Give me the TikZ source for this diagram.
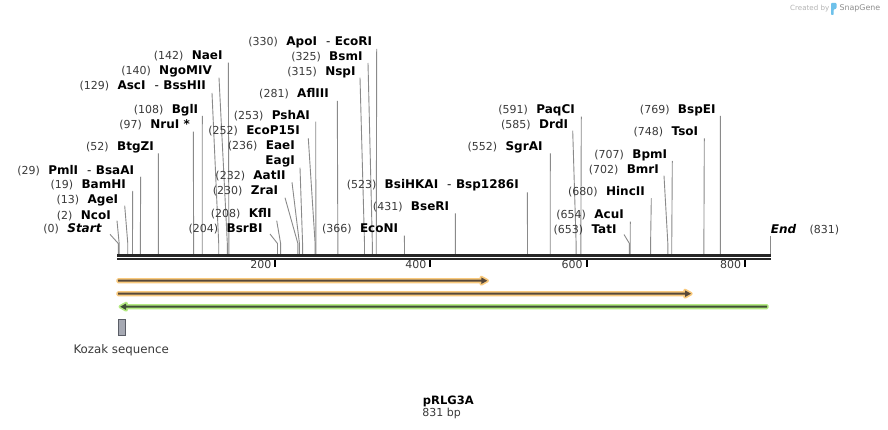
\documentclass[tikz,border=0pt]{standalone}
\usepackage{fontspec}
\setmainfont{DejaVu Sans}
\definecolor{numc}{HTML}{3A3A3A}
\definecolor{cutc}{HTML}{8A8A8A}
\definecolor{orhl}{HTML}{F9C97C}
\definecolor{ordk}{HTML}{56483A}
\definecolor{grhl}{HTML}{B4EA82}
\definecolor{grdk}{HTML}{3F4F35}
\definecolor{kozf}{HTML}{A6A9B3}
\definecolor{kozd}{HTML}{5A5D66}
\definecolor{axisc}{HTML}{262626}
\definecolor{wmgray}{HTML}{B4B4B4}
\definecolor{wmdark}{HTML}{8E8E8E}
\definecolor{wmblue}{HTML}{6EC1EA}
\tikzset{
  enzname/.style={inner sep=0pt, font=\fontsize{12}{14}\selectfont\bfseries, text=black},
  enznum/.style={inner sep=0pt, font=\fontsize{11}{13}\selectfont, text=numc},
  cutline/.style={draw=cutc, line width=0.9pt},
  ticklab/.style={inner sep=0pt, font=\fontsize{11}{13}\selectfont, text=numc, anchor=base east},
  tickmark/.style={draw=black, line width=2pt},
}
\newcommand\cutsite[8]{%
  \node[enzname, anchor=base east] (#1-n) at (#4,#5) {#3};
  \node[enznum, anchor=base east] (#1-p) at ([xshift=-8pt]#1-n.base west) {#2};
  \coordinate (#1-t) at (#6,#7);
  \coordinate (#1-s) at ({117.6+0.7838*#8},254);
  \draw[cutline] (#1-t) -- ([yshift=10.5pt]#1-s) -- (#1-s);
}
\newcommand\dsep{\hspace{9pt}{\mdseries -}\hspace{4.5pt}}
\begin{document}
\begin{tikzpicture}[x=1pt, y=-1pt]
\useasboundingbox (0,0) rectangle (888,430);
\fill[white] (0,0) rectangle (888,430);

% watermark
\node[inner sep=0pt, anchor=base west, font=\fontsize{7.1}{8}\selectfont, text=wmgray] (wm1) at (790,11) {Created by};
\fill[wmblue, rounded corners=0.8pt] (831,3) -- (836.5,3) -- (836.5,8.5) -- (833.6,9.5) -- (833.6,15) -- (831,15) -- cycle;
\node[inner sep=0pt, anchor=base west, font=\fontsize{7.9}{9}\selectfont, text=wmdark] (wm2) at (839.3,11) {SnapGene};

% axis
\fill[axisc] (116.7,254) rectangle (770.7,256.7);
\fill[axisc] (116.7,257.7) rectangle (770.7,260);
\foreach \tx/\tl in {275.3/200, 430.3/400, 586.7/600, 745/800}{
  \coordinate (tk\tl) at (\tx,260);
  \draw[tickmark] (tk\tl) -- ++(0,7);
  \node[ticklab] (tl\tl) at (\tx-3.8,268.3) {\tl};
}

% cut sites
\cutsite{start}{(0)}{\itshape Start}{101.7}{232.7}{110}{234.3}{0.9}
\cutsite{nco}{(2)}{NcoI}{111}{219.3}{117}{220.7}{2}
\cutsite{age}{(13)}{AgeI}{118.3}{204}{124.7}{205.7}{13}
\cutsite{bam}{(19)}{BamHI}{126}{189}{132.7}{191}{19}
\cutsite{pml}{(29)}{PmlI\dsep BsaAI}{134.3}{174.3}{140.7}{176.7}{29}
\cutsite{btg}{(52)}{BtgZI}{154}{151}{158.3}{153.3}{52}
\cutsite{nru}{(97)}{NruI *}{190}{128.3}{193.3}{131.7}{97}
\cutsite{bgl}{(108)}{BglI}{198.3}{113.3}{202.3}{116}{108}
\cutsite{asc}{(129)}{AscI\dsep BssHII}{206}{90}{212}{93}{129}
\cutsite{ngo}{(140)}{NgoMIV}{212}{75}{219}{77.7}{140}
\cutsite{nae}{(142)}{NaeI}{222.7}{60}{228.3}{62.7}{142}
\cutsite{bsrb}{(204)}{BsrBI}{262.7}{232.7}{270}{234}{204}
\cutsite{kfl}{(208)}{KflI}{271.7}{217.7}{276.7}{220.7}{208}
\cutsite{zra}{(230)}{ZraI}{278.3}{195}{285}{197.7}{230}
\cutsite{aat}{(232)}{AatII}{285.7}{180}{292}{182.3}{232}
% EaeI / EagI share one site
\node[enzname, anchor=base east] (eae-n) at (295,149.5) {EaeI};
\node[enznum, anchor=base east] (eae-p) at ([xshift=-8pt]eae-n.base west) {(236)};
\node[enzname, anchor=base east] (eag-n) at (295,165) {EagI};
\coordinate (eag-t) at (300,167.7);
\coordinate (eag-s) at ({117.6+0.7838*236},254);
\draw[cutline] (eag-t) -- ([yshift=10.5pt]eag-s) -- (eag-s);
\cutsite{ecop}{(252)}{EcoP15I}{300}{135}{308.3}{138.3}{252}
\cutsite{psh}{(253)}{PshAI}{310}{120}{315.7}{121.7}{253}
\cutsite{afl}{(281)}{AflIII}{329}{97.7}{337.3}{101}{281}
\cutsite{nsp}{(315)}{NspI}{355.7}{75.7}{360}{77.7}{315}
\cutsite{bsm}{(325)}{BsmI}{362.7}{60.7}{368}{63}{325}
\cutsite{apo}{(330)}{ApoI\dsep EcoRI}{372.3}{45.7}{376.7}{49}{330}
\cutsite{econ}{(366)}{EcoNI}{398.3}{232.7}{404.3}{235.7}{366}
\cutsite{bse}{(431)}{BseRI}{449.3}{211}{455.3}{213.3}{431}
\cutsite{bsi}{(523)}{BsiHKAI\dsep Bsp1286I}{519}{188.3}{527.3}{192.3}{523}
\cutsite{sgr}{(552)}{SgrAI}{542.7}{151}{550.3}{153.3}{552}
\cutsite{drd}{(585)}{DrdI}{568.3}{129}{572.7}{130.7}{585}
\cutsite{paq}{(591)}{PaqCI}{575}{114}{581.3}{116.7}{591}
\cutsite{tat}{(653)}{TatI}{616.7}{233.5}{624}{234.5}{653}
\cutsite{acu}{(654)}{AcuI}{624}{219}{630.3}{221.7}{654}
\cutsite{hinc}{(680)}{HincII}{645}{196}{651.3}{198.3}{680}
\cutsite{bmr}{(702)}{BmrI}{659}{173.3}{664}{175.7}{702}
\cutsite{bpm}{(707)}{BpmI}{667.3}{158.3}{672.3}{161}{707}
\cutsite{tso}{(748)}{TsoI}{698.3}{135.7}{704.3}{138.3}{748}
\cutsite{bsp}{(769)}{BspEI}{715.7}{113.3}{720.3}{116}{769}
% End
\node[enzname, anchor=base west] (end-n) at (770.7,233.3) {\itshape End};
\node[enznum, anchor=base west] (end-p) at (809.3,233.3) {(831)};
\coordinate (end-t) at (770.3,235.7);
\coordinate (end-s) at (770.3,254);
\draw[cutline] (end-t) -- (end-s);

% features
\path[fill=orhl, draw=orhl, line width=3.4pt, line join=round]
  (118,279.7) -- (481.3,279.7) -- (481.3,277.4) -- (487.3,280.7) -- (481.3,284) -- (481.3,281.7) -- (118,281.7) -- cycle;
\fill[ordk] (118,279.7) -- (481.3,279.7) -- (481.3,277.4) -- (487.3,280.7) -- (481.3,284) -- (481.3,281.7) -- (118,281.7) -- cycle;
\path[fill=orhl, draw=orhl, line width=3.4pt, line join=round]
  (118,292.7) -- (685,292.7) -- (685,290.4) -- (691,293.7) -- (685,297) -- (685,294.7) -- (118,294.7) -- cycle;
\fill[ordk] (118,292.7) -- (685,292.7) -- (685,290.4) -- (691,293.7) -- (685,297) -- (685,294.7) -- (118,294.7) -- cycle;
\path[fill=grhl, draw=grhl, line width=3.4pt, line join=round]
  (767,305.7) -- (126.2,305.7) -- (126.2,303.4) -- (120.2,306.7) -- (126.2,310) -- (126.2,307.7) -- (767,307.7) -- cycle;
\fill[grdk] (767,305.7) -- (126.2,305.7) -- (126.2,303.4) -- (120.2,306.7) -- (126.2,310) -- (126.2,307.7) -- (767,307.7) -- cycle;

% Kozak
\node[draw=kozd, fill=kozf, line width=0.8pt, minimum width=7.2pt, minimum height=15.8pt, inner sep=0pt] (koz) at (122.15,327.5) {};
\node[inner sep=0pt, anchor=base, font=\fontsize{11.8}{14}\selectfont, text=numc] (kozlab) at (121.2,353.3) {Kozak sequence};

% title
\node[inner sep=0pt, anchor=base, font=\fontsize{11.5}{14}\selectfont\bfseries] (title) at (448.3,404) {pRLG3A};
\node[inner sep=0pt, anchor=base, font=\fontsize{11}{13}\selectfont, text=numc] (bp) at (441.7,416) {831 bp};
\end{tikzpicture}
\end{document}
